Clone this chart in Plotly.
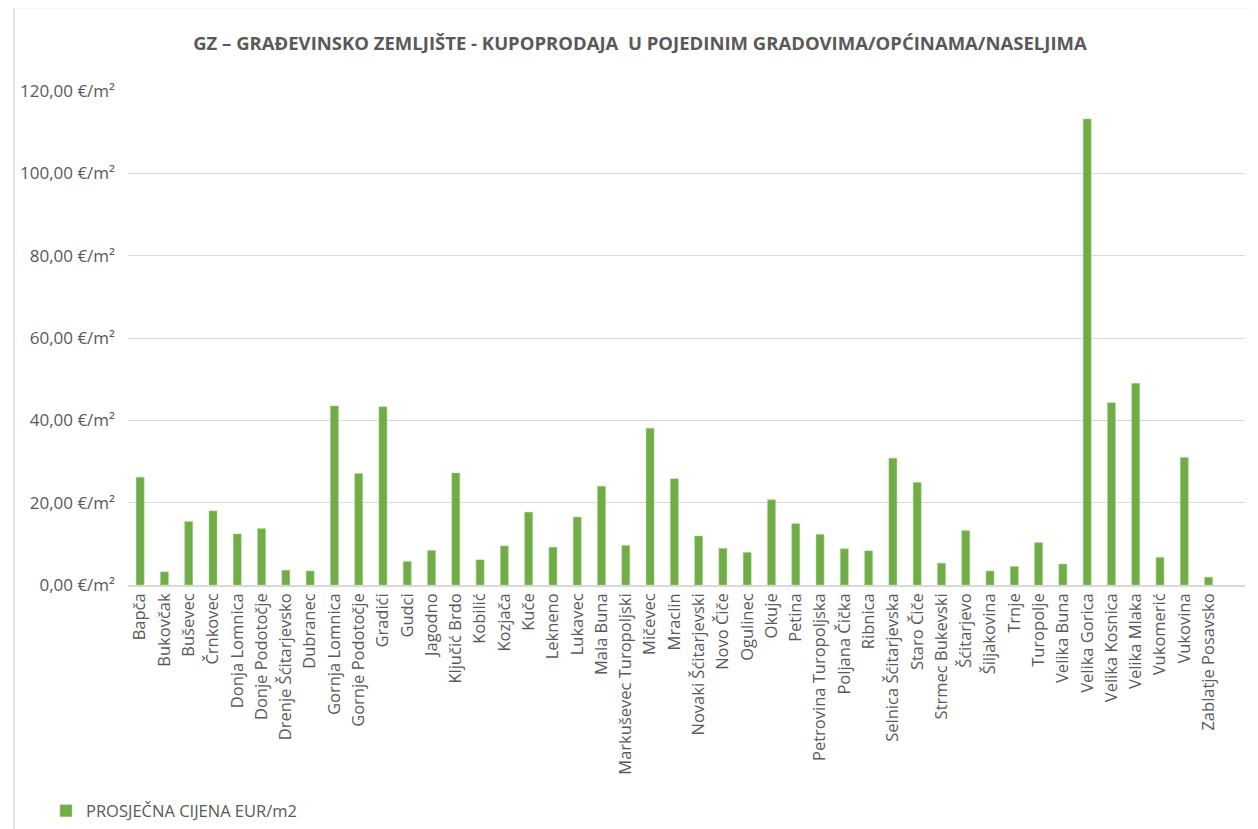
import plotly.graph_objects as go

TITLE = "GZ – GRAĐEVINSKO ZEMLJIŠTE - KUPOPRODAJA  U POJEDINIM GRADOVIMA/OPĆINAMA/NASELJIMA"
SERIES_NAME = "PROSJEČNA CIJENA EUR/m2"

places = [
    'Bapča', 'Bukovčak', 'Buševec', 'Črnkovec', 'Donja Lomnica', 'Donje Podotočje',
    'Drenje Šćitarjevsko', 'Dubranec', 'Gornja Lomnica', 'Gornje Podotočje', 'Gradići',
    'Gudci', 'Jagodno', 'Ključić Brdo', 'Kobilić', 'Kozjača', 'Kuče', 'Lekneno', 'Lukavec',
    'Mala Buna', 'Markuševec Turopoljski', 'Mičevec', 'Mraclin', 'Novaki Šćitarjevski',
    'Novo Čiče', 'Ogulinec', 'Okuje', 'Petina', 'Petrovina Turopoljska', 'Poljana Čička',
    'Ribnica', 'Selnica Šćitarjevska', 'Staro Čiče', 'Strmec Bukevski', 'Šćitarjevo',
    'Šiljakovina', 'Trnje', 'Turopolje', 'Velika Buna', 'Velika Gorica', 'Velika Kosnica',
    'Velika Mlaka', 'Vukomerić', 'Vukovina', 'Zablatje Posavsko',
]
avg_price = [
    26.2, 3.2, 15.4, 18.0, 12.4, 13.7,
    3.6, 3.4, 43.5, 27.1, 43.3,
    5.7, 8.4, 27.2, 6.1, 9.5, 17.7, 9.2, 16.5,
    24.0, 9.6, 38.1, 25.8, 11.9,
    8.9, 7.9, 20.7, 14.9, 12.3, 8.8,
    8.3, 30.8, 24.9, 5.3, 13.2,
    3.4, 4.5, 10.3, 5.1, 113.2, 44.3,
    49.0, 6.7, 31.0, 1.9,
]
y_ticks = [0, 20, 40, 60, 80, 100, 120]
y_tick_labels = ['0,00 €/m²', '20,00 €/m²', '40,00 €/m²', '60,00 €/m²',
                 '80,00 €/m²', '100,00 €/m²', '120,00 €/m²']

GREEN = '#70ad47'
TEXT = '#595959'
GRID = '#d9d9d9'

# page body has an 8px margin, so the figure is a bit smaller than the window
W, H = 1250, 821

fig = go.Figure()
fig.add_trace(go.Bar(
    x=places,
    y=avg_price,
    name=SERIES_NAME,
    marker=dict(color=GREEN, line=dict(color='#a9d18e', width=0.5)),
    showlegend=True,
))

fig.update_xaxes(
    type='category',
    range=[-0.5, len(places) + 0.5],  # Excel leaves one empty slot at the right
    tickangle=-90,
    tickfont=dict(size=16.5, color=TEXT),
    showline=True, linecolor=GRID, linewidth=1.5,
    ticks='', showgrid=False,
)
fig.update_yaxes(
    range=[0, 120],
    tickvals=y_ticks,
    ticktext=y_tick_labels,
    tickfont=dict(size=17, color=TEXT),
    ticklabelstandoff=12,
    gridcolor=GRID, gridwidth=1,
    zeroline=False, ticks='', ticklen=0,
)

# thin chart-area border (left + top edges visible)
fig.add_shape(type='rect', xref='paper', yref='paper',
              x0=-114.5 / 1123, x1=1.2, y0=-1.0, y1=577.5 / 494,
              line=dict(color=GRID, width=1.5), layer='below')

fig.update_layout(
    width=W, height=H,
    margin=dict(l=114, r=13, t=83, b=244),
    paper_bgcolor='white', plot_bgcolor='white',
    font=dict(family='Open Sans', color=TEXT),
    bargap=0.67,
    title=dict(text=f'<b>{TITLE}</b>', font=dict(size=18.5, color=TEXT),
               xref='container', x=632 / W, xanchor='center',
               yref='container', y=1 - 36 / H, yanchor='middle'),
    legend=dict(orientation='h', xref='container', yref='container',
                x=38 / W, y=18 / H, xanchor='left', yanchor='middle',
                font=dict(size=16.5, color=TEXT), itemwidth=30),
)

fig.write_html("out.html")
